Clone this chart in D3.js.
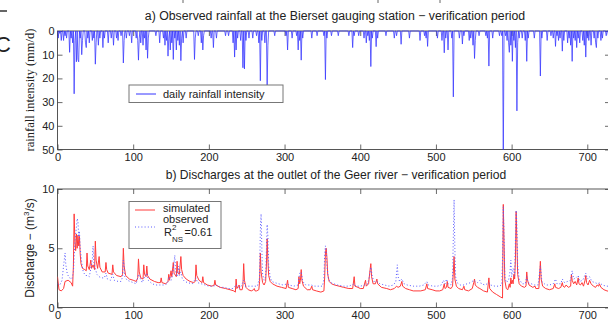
<!DOCTYPE html>
<html><head><meta charset="utf-8">
<script src="https://cdn.jsdelivr.net/npm/d3@7"></script>
<style>
html,body{margin:0;padding:0;background:#fff;}
svg{display:block;}
text{font-family:"Liberation Sans",Arial,sans-serif;fill:#222;}
</style></head>
<body>
<svg id="c" width="608" height="323"></svg>
<script>
// ---------------- DATA ----------------
const xTicks = [0,100,200,300,400,500,600,700];
const rainTicks = [0,10,20,30,40,50];
const qTicks = [0,5,10];

// daily rainfall (mm/d): [day, intensity] for rainy days (other days dry)
const rainEvents = [[1,3],[3,1],[5,4],[8,4],[10,2],[12,3],[16,9],[18,3],[20,5],[22,26.5],[23,4],[25,13],[27,12],[28,13],[30,3],[32,10],[33,4],[37,5],[38,7],[40,3],[42,5],[46,4],[48,3],[50,14],[51,5],[54,6],[56,3],[60,7],[62,3],[67,5],[71,3],[74,6],[78,3],[80,4],[84,2],[87,13.5],[88,4],[91,3],[95,2],[98,5],[104,3],[106,4],[107,12.3],[108,3],[110,5],[113,6],[115,3],[117,8],[119,11.5],[120,3],[130,2],[135,5],[140,3],[142,6],[144,4],[146,10.6],[147,3],[149,8],[151,5],[153,12],[155,3],[157,8],[159,4],[161,6],[163,12.5],[164,3],[166,5],[170,3],[181,12],[182,3],[186,2],[190,5],[192,8],[193,2],[203,3],[206,7],[210,3],[222,2],[226,2],[232,5],[234,11],[236,8],[238,3],[242,4],[245,15.5],[247,16],[249,4],[253,3],[258,3],[263,2],[266,5],[268,21],[270,4],[274,5],[277,23.5],[278,6],[287,2],[302,2],[304,8],[310,3],[316,2],[318,8],[320,4],[322,12.3],[324,3],[336,3],[343,2],[352,2],[354,20.5],[356,3],[362,2],[371,2],[385,2],[390,7],[392,2],[398,2],[405,3],[408,5],[410,2],[412,4],[414,15],[416,3],[421,6.6],[423,3],[434,2],[445,3],[448,2],[454,5.6],[465,3],[479,4],[485,2],[487,3],[489,6.5],[502,3],[508,4],[511,9.2],[513,3],[516,8],[521,3],[523,27.8],[531,3],[535,5.5],[537,2],[544,4],[546,3],[549,6],[551,11.6],[552,4],[557,2],[566,2],[568,3],[570,14.8],[575,3],[584,2],[587,2],[589,55],[592,2],[594,4],[596,5],[597,9],[599,6],[601,12.8],[603,4],[605,7],[607,33.7],[608,5],[610,3],[614,3],[618,4],[620,12.8],[622,3],[630,3],[638,19],[640,3],[647,4],[652,2],[655,3],[658,6.5],[660,2],[662,4],[664,3],[667,8.5],[669,4],[674,5],[676,3],[678,6],[680,12.8],[682,3],[684,4],[686,7],[688,3],[690,5],[694,4],[696,6],[698,11],[700,3],[702,4],[705,6],[709,3],[711,5],[712,7],[714,3],[718,4],[720,3],[725,2],[728,2]];

// simulated discharge (m3/s)
const simDay = [0,2,5,8,10,14,18,20,21,22,23,24,25,26,27,28,29,30,31,33,36,38,39,40,42,44,45,47,49,50,51,53,55,56,59,63,64,65,67,72,73,74,78,84,86,87,88,90,95,100,104,106,107,108,110,113,114,115,117,118,119,122,128,133,136,137,138,143,146,147,148,150,151,153,154,157,158,159,161,163,164,166,170,175,180,182,183,184,187,191,192,193,198,204,207,208,209,215,222,228,233,235,236,237,240,241,244,245,246,247,249,252,256,259,260,261,263,266,267,268,269,271,273,275,276,277,278,279,281,284,290,296,302,304,305,310,315,318,319,320,321,322,323,325,330,334,336,337,342,348,352,353,354,355,356,357,359,362,366,372,378,385,390,392,393,397,400,404,407,408,411,413,414,415,417,420,422,423,428,435,440,445,448,450,453,455,456,460,465,470,475,480,486,488,489,495,500,505,509,511,512,514,515,516,520,522,523,524,525,527,530,535,537,538,543,548,550,551,552,555,558,563,568,570,571,575,580,585,588,589,590,591,593,595,597,598,599,600,601,602,603,604,605,606,607,608,610,613,617,619,620,621,623,628,631,632,636,638,639,641,645,650,655,657,658,662,665,667,668,670,672,675,678,679,680,682,684,686,688,689,691,693,695,697,698,699,701,703,705,708,711,713,715,716,718,722,726,730];
const simQ   = [2.6,1.5,1.4,1.6,2.2,2.3,2.1,1.8,3.5,7.9,5.5,4.8,6.2,5.0,6.1,5.2,6.0,4.5,3.7,3.3,3.2,3.1,4.6,3.5,3.2,4.0,3.3,3.6,3.2,5.6,4.0,3.3,4.3,3.4,3.0,3.0,3.8,3.2,2.9,2.8,3.6,3.0,2.7,2.6,2.8,5.0,3.5,2.7,2.4,2.3,2.2,2.5,4.1,3.0,2.5,2.4,3.6,2.8,2.6,3.5,2.7,2.4,2.2,2.1,2.1,2.5,2.1,2.0,2.2,2.8,2.3,3.1,2.6,3.8,2.9,2.6,3.9,2.9,2.8,4.3,3.2,2.7,2.4,2.2,2.1,2.2,3.6,2.7,2.3,2.1,2.6,2.1,1.9,1.8,1.9,2.3,1.9,1.7,1.6,1.5,1.4,1.3,2.4,1.6,1.9,1.5,1.5,1.9,3.7,2.3,1.7,1.5,1.4,1.5,1.6,1.4,1.4,1.5,2.2,4.6,3.0,2.1,1.9,2.2,3.5,5.8,4.0,2.7,2.2,2.0,1.8,1.7,1.6,2.3,1.7,1.6,1.5,1.6,2.6,2.0,2.3,3.2,2.3,1.8,1.5,1.5,1.8,1.5,1.4,1.3,1.4,2.5,4.6,5.0,4.2,2.8,2.2,2.0,1.9,1.8,1.7,1.6,1.6,2.6,1.8,1.7,1.6,1.6,2.3,1.8,2.0,3.2,3.7,2.6,2.0,2.0,2.4,2.0,1.7,1.6,1.5,1.6,1.8,1.7,1.8,2.2,1.8,1.6,1.5,1.4,1.4,1.4,1.5,2.0,1.6,1.5,1.4,1.4,1.5,2.0,1.6,1.7,2.2,1.7,1.6,1.8,3.0,4.3,2.4,1.8,1.6,1.5,1.8,1.5,1.4,1.6,2.1,2.4,1.9,1.7,1.6,1.4,1.3,2.5,1.6,1.3,1.1,0.9,0.8,8.7,5.5,2.3,1.6,1.5,2.0,1.7,2.5,2.0,2.3,2.0,2.8,2.4,4.0,8.1,5.5,2.8,2.0,1.8,1.7,1.8,3.0,2.3,1.9,1.7,1.8,1.6,1.6,3.9,2.4,1.8,1.6,1.5,1.6,2.0,1.7,1.6,1.7,2.1,1.8,1.7,1.9,1.7,1.8,2.8,2.3,2.0,2.2,1.9,2.5,2.0,1.9,2.1,1.8,2.3,2.7,2.1,1.9,2.3,2.0,1.8,1.7,1.9,1.8,2.0,1.7,1.5,1.4,1.35];

// observed discharge (m3/s)
const obsDay = [0,3,6,8,10,11,13,16,19,21,23,25,26,27,28,29,30,32,34,37,40,42,44,46,47,48,50,52,55,58,62,64,66,70,73,75,80,84,86,87,88,89,92,96,100,104,107,109,112,115,118,120,125,130,135,140,145,148,150,152,155,156,158,160,161,163,165,168,172,178,183,185,190,195,200,206,210,215,220,226,232,236,238,242,246,248,252,258,264,267,268,269,270,271,273,275,277,278,279,281,283,287,292,298,304,306,312,318,320,322,324,328,335,340,346,350,352,353,354,355,356,358,361,365,370,378,385,392,394,400,406,410,412,414,416,418,422,426,432,438,444,447,449,450,452,455,458,462,470,478,484,488,490,496,502,507,510,512,514,516,520,522,523,524,525,526,528,532,537,541,546,550,552,555,558,560,565,570,572,578,583,587,588,589,590,591,593,596,598,599,600,602,604,605,606,607,608,610,614,618,620,622,626,630,635,638,640,645,650,655,658,660,665,667,670,674,678,680,682,685,688,690,694,698,700,703,706,710,714,716,720,725,730];
const obsQ   = [2.0,1.9,2.3,3.5,4.6,3.6,2.8,2.5,2.4,3.0,5.5,6.8,7.5,7.3,6.0,6.4,5.0,3.8,3.0,2.7,2.7,2.6,3.3,4.0,5.2,3.8,3.3,2.8,2.6,2.5,2.5,2.9,2.4,2.3,2.8,2.3,2.2,2.2,2.6,4.0,3.5,2.6,2.3,2.2,2.1,2.0,2.8,2.5,2.1,2.6,2.9,2.3,2.0,1.9,1.9,1.9,2.0,2.6,2.3,2.7,4.4,3.0,2.6,3.5,2.7,3.0,2.4,2.2,2.1,2.0,2.5,2.1,2.0,1.9,1.8,1.8,1.9,1.7,1.7,1.6,1.6,1.9,1.7,1.7,2.3,1.8,1.8,1.8,1.8,2.5,6.5,7.9,5.0,2.8,2.3,2.6,7.0,6.0,3.5,2.6,2.2,2.1,2.0,1.9,2.0,1.9,1.8,1.9,2.9,3.0,2.2,1.9,1.9,1.8,1.8,1.8,2.4,4.5,5.2,4.8,3.5,2.4,2.1,2.0,1.9,1.8,1.8,2.0,1.8,1.8,1.9,2.0,2.6,3.4,2.6,2.2,2.2,2.0,1.9,1.8,1.9,2.2,3.6,2.6,2.2,2.4,2.0,1.9,1.8,1.8,1.9,2.2,1.9,1.8,1.8,1.9,2.3,2.0,2.4,2.0,1.9,2.5,6.0,9.1,5.0,2.6,2.1,1.9,1.9,2.0,2.1,2.3,2.2,2.1,2.3,2.0,1.9,2.1,1.9,1.8,1.8,1.9,4.0,8.5,6.0,2.6,2.1,2.3,3.1,4.0,2.6,3.3,2.7,5.5,8.2,7.0,3.5,2.4,2.0,2.0,2.6,2.1,2.0,1.9,1.9,3.5,2.2,1.9,1.9,2.0,2.4,2.0,2.0,2.4,2.1,2.2,2.3,3.1,2.4,2.5,2.7,2.2,2.3,2.9,2.4,2.6,2.2,2.1,2.0,2.1,1.9,1.8,1.8];

// ---------------- CHART ----------------
const svg = d3.select("#c");
const x = d3.scaleLinear().domain([0,730]).range([57.5,610]);
const yR = d3.scaleLinear().domain([0,50]).range([31,149.5]);
const yQ = d3.scaleLinear().domain([0,10]).range([307.5,189]);
const axisCol = "#444";

// cropped-figure remnants
svg.append("line").attr("x1",0).attr("x2",7).attr("y1",11).attr("y2",11).attr("stroke","#333").attr("stroke-width",1.5);
svg.append("text").attr("x",-5).attr("y",52).attr("font-size",22).text("C");
[183,378,440].forEach(px=>svg.append("line").attr("x1",px).attr("x2",px).attr("y1",0).attr("y2",3).attr("stroke","#666"));

function styleAxis(g){
  g.select(".domain").remove();
  g.selectAll(".tick line").attr("stroke",axisCol).attr("stroke-width",0.8);
  g.selectAll(".tick text").attr("font-size",11).style("font-family","Liberation Sans, Arial").attr("fill","#222");
}

function panel(yScale, yt){
  const top = Math.min(...yScale.range()), bot = Math.max(...yScale.range());
  svg.append("rect").attr("x",x.range()[0]).attr("y",top).attr("width",x.range()[1]-x.range()[0]).attr("height",bot-top)
     .attr("fill","none").attr("stroke",axisCol).attr("stroke-width",0.9);
  svg.append("g").attr("transform",`translate(0,${bot})`)
     .call(d3.axisBottom(x).tickValues(xTicks).tickSizeInner(-5).tickSizeOuter(0).tickPadding(4).tickFormat(d3.format("d"))).call(styleAxis);
  svg.append("g").attr("transform",`translate(0,${top})`)
     .call(d3.axisTop(x).tickValues(xTicks).tickSizeInner(-5).tickSizeOuter(0).tickFormat("")).call(styleAxis);
  svg.append("g").attr("transform",`translate(${x.range()[0]},0)`)
     .call(d3.axisLeft(yScale).tickValues(yt).tickSizeInner(-5).tickSizeOuter(0).tickPadding(3).tickFormat(d3.format("d"))).call(styleAxis);
  svg.append("g").attr("transform",`translate(${x.range()[1]},0)`)
     .call(d3.axisRight(yScale).tickValues(yt).tickSizeInner(-5).tickSizeOuter(0).tickFormat("")).call(styleAxis);
  return [top,bot];
}

// ---- panel a
const [aTop,aBot] = panel(yR, rainTicks);
svg.append("defs").append("clipPath").attr("id","clipA").append("rect")
   .attr("x",x.range()[0]).attr("y",aTop-2).attr("width",x.range()[1]-x.range()[0]).attr("height",aBot-aTop+2);
const rainMap = new Map(rainEvents);
const rainSeries = d3.range(0,731).map(d=>[d, rainMap.get(d)||0]);
svg.append("path").datum(rainSeries).attr("clip-path","url(#clipA)")
   .attr("d", d3.line().x(d=>x(d[0])).y(d=>yR(d[1])))
   .attr("fill","none").attr("stroke","#3434ff").attr("stroke-width",0.75);

svg.append("text").attr("x",335).attr("y",20).attr("text-anchor","middle").attr("font-size",12.3)
   .text("a) Observed rainfall at the Bierset gauging station − verification period");
svg.append("text").attr("transform","translate(34,90) rotate(-90)").attr("text-anchor","middle")
   .attr("font-size",12.5).style("font-family","Liberation Serif, Times New Roman, serif").text("rainfall intensity (mm/d)");

// legend a
svg.append("rect").attr("x",129).attr("y",85).attr("width",154).attr("height",17.5)
   .attr("fill","#fff").attr("stroke","#777").attr("stroke-width",1);
svg.append("line").attr("x1",136).attr("x2",156).attr("y1",94).attr("y2",94).attr("stroke","#3434ff").attr("stroke-width",1);
svg.append("text").attr("x",163).attr("y",98).attr("font-size",11).text("daily rainfall intensity");

// ---- panel b
const [bTop,bBot] = panel(yQ, qTicks);
svg.append("defs").append("clipPath").attr("id","clipB").append("rect")
   .attr("x",x.range()[0]).attr("y",bTop).attr("width",x.range()[1]-x.range()[0]).attr("height",bBot-bTop);
const lineQ = d3.line().x(d=>x(d[0])).y(d=>yQ(d[1]));
svg.append("path").datum(simDay.map((d,i)=>[d,simQ[i]])).attr("clip-path","url(#clipB)")
   .attr("d",lineQ).attr("fill","none").attr("stroke","#ff3b3b").attr("stroke-width",1);
svg.append("path").datum(obsDay.map((d,i)=>[d,obsQ[i]])).attr("clip-path","url(#clipB)")
   .attr("d",lineQ).attr("fill","none").attr("stroke","#5a5aff").attr("stroke-width",1).attr("stroke-dasharray","1,2.2");

svg.append("text").attr("x",336).attr("y",179).attr("text-anchor","middle").attr("font-size",12.1)
   .text("b) Discharges at the outlet of the Geer river − verification period");
const yl = svg.append("text").attr("transform","translate(34,248) rotate(-90)").attr("text-anchor","middle").attr("font-size",12);
yl.append("tspan").text("Discharge − (m");
yl.append("tspan").attr("font-size",8).attr("dy",-5).text("3");
yl.append("tspan").attr("dy",5).text("/s)");

// legend b
svg.append("rect").attr("x",129).attr("y",201.5).attr("width",92).attr("height",47)
   .attr("fill","#fff").attr("stroke","#777").attr("stroke-width",1);
svg.append("line").attr("x1",135).attr("x2",155).attr("y1",210).attr("y2",210).attr("stroke","#ff3b3b").attr("stroke-width",1);
svg.append("text").attr("x",163).attr("y",212).attr("font-size",11).text("simulated");
svg.append("text").attr("x",163).attr("y",223).attr("font-size",11).text("observed");
svg.append("line").attr("x1",135).attr("x2",155).attr("y1",227).attr("y2",227).attr("stroke","#5a5aff").attr("stroke-width",1).attr("stroke-dasharray","1,2.2");
svg.append("text").attr("x",164).attr("y",236).attr("font-size",11).text("R");
svg.append("text").attr("x",172).attr("y",229.5).attr("font-size",8).text("2");
svg.append("text").attr("x",172).attr("y",242).attr("font-size",8).text("NS");
svg.append("text").attr("x",184.5).attr("y",236).attr("font-size",11).text("=0.61");
</script>
</body></html>
